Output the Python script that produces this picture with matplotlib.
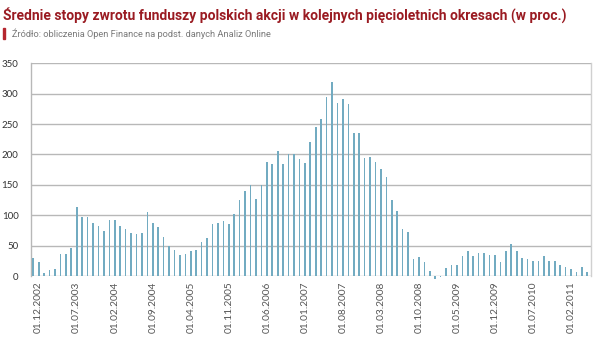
import matplotlib
matplotlib.use("Agg")
import matplotlib.pyplot as plt
from matplotlib.patches import Rectangle
import numpy as np

# Monthly five-year average returns of Polish equity funds (%), 11.2002 - 05.2011
returns = [
    30, 23, 5.5, 10, 11.5, 36, 36, 45.5, 114, 96.5,
    96.5, 87, 82, 74, 92.5, 91.5, 83, 78, 70, 68.5,
    71, 105, 88, 80, 63.5, 50, 42, 34, 37, 40.5,
    43, 56, 62.5, 85.5, 88, 91, 85, 101.5, 125, 140,
    150, 126, 150, 187.5, 184, 205.5, 184, 200, 200, 193,
    186.5, 220, 246, 258, 295, 318.5, 285, 292, 282.5, 235,
    235, 194.5, 196, 188, 176, 163, 125, 107.5, 77, 73,
    28, 30.5, 23, 8, -5, -1, 12.5, 17.5, 17.5, 33.5,
    40.5, 33, 37.5, 37.5, 34, 34.5, 22.5, 40.5, 52.5, 40.5,
    29.5, 28.5, 24.5, 24.5, 33, 25, 25, 17.5, 14, 11,
    6.5, 14, 7,
]

tick_labels = [
    "01.12.2002", "01.07.2003", "01.02.2004", "01.09.2004", "01.04.2005",
    "01.11.2005", "01.06.2006", "01.01.2007", "01.08.2007", "01.03.2008",
    "01.10.2008", "01.05.2009", "01.12.2009", "01.07.2010", "01.02.2011",
]
first_label_index = 1
label_step = 7

y_ticks = [0, 50, 100, 150, 200, 250, 300, 350]

title = "Średnie stopy zwrotu funduszy polskich akcji w kolejnych pięcioletnich okresach (w proc.)"
source = "Źródło: obliczenia Open Finance na podst. danych Analiz Online"

BAR = "#72abc1"
GRID = "#b8b8b8"
TITLE_RED = "#9a1b22"
NARROW = ["Liberation Sans Narrow", "Roboto", "DejaVu Sans"]

W, H = 593, 342
fig = plt.figure(figsize=(W / 100, H / 100), dpi=100)
ax = fig.add_axes([31 / W, 66 / H, 560 / W, 212.7 / H])

x = np.arange(len(returns))
bars = ax.bar(x, returns, width=0.3, color=BAR, zorder=5)
for b in bars:
    b.set_clip_on(False)

ax.set_xlim(-0.42, len(returns) - 1 + 0.68)
ax.set_ylim(0, 350)
ax.set_yticks(y_ticks)
ax.set_yticklabels([str(v) for v in y_ticks], fontsize=7, color="#333333",
                   family="Lato")
ax.tick_params(axis="y", length=0, pad=9)

tick_pos = x[first_label_index::label_step][:len(tick_labels)]
ax.set_xticks(tick_pos)
ax.set_xticklabels(tick_labels, rotation=90, fontsize=7.3, color="#555555",
                   family="Lato")
ax.tick_params(axis="x", length=0, pad=4)

for v in y_ticks[1:]:
    ax.axhline(v, color=GRID, lw=1.0, zorder=1)
ax.axhline(0, color=GRID, lw=1.0, zorder=4)

for s in ["top", "bottom"]:
    ax.spines[s].set_visible(False)
ax.spines["left"].set_color(GRID)
ax.spines["right"].set_color("#d0d0d0")
ax.spines["left"].set_linewidth(1.0)
ax.spines["right"].set_linewidth(1.0)

# Header: title and source line, each fitted to its width
def fitted_text(xp, yp, s, width_px, size, **kw):
    t = fig.text(xp / W, 1 - yp / H, s, fontsize=size, va="center", ha="left", **kw)
    r = fig.canvas.get_renderer()
    w = t.get_window_extent(renderer=r).width
    t.set_fontsize(size * width_px / w)
    return t

fitted_text(3, 15, title, 562, 11, color=TITLE_RED, fontweight="bold",
            family=NARROW)
fitted_text(12, 34, source, 260, 7.5, color="#7a7a7a", family=NARROW)
fig.patches.append(Rectangle((3 / W, 1 - 39 / H), 2 / W, 11 / H,
                             transform=fig.transFigure, color="#b5262e"))

fig.savefig("out.png", dpi=100)
